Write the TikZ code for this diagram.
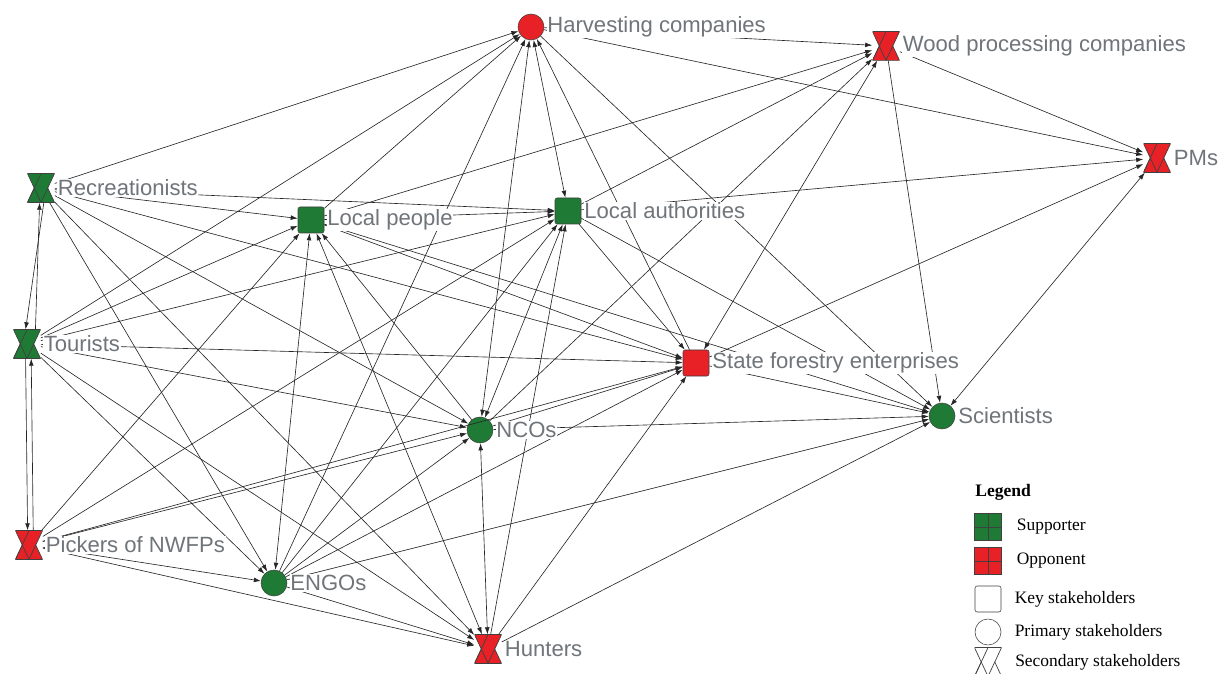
\documentclass[tikz,border=0pt]{standalone}
\usepackage{fontspec}
\setmainfont{Liberation Serif}
\setsansfont{Liberation Sans}
\usetikzlibrary{arrows.meta,positioning}

\definecolor{oppred}{RGB}{232,33,39}
\definecolor{supgreen}{RGB}{31,122,53}
\definecolor{labgray}{RGB}{112,117,122}

\tikzset{
  key/.style={rectangle, rounded corners=1.5pt, draw=black!75, fill=#1, minimum size=0.65cm, inner sep=0pt},
  prim/.style={circle, draw=black!75, fill=#1, minimum size=0.65cm, inner sep=0pt},
  second/.style={rectangle, minimum width=0.675cm, minimum height=0.72cm, inner sep=0pt,
    path picture={
      \filldraw[fill=#1, draw=black!75, line width=0.5pt]
        (path picture bounding box.south west) -- (path picture bounding box.south east)
        -- (path picture bounding box.north) -- cycle;
      \filldraw[fill=#1, draw=black!75, line width=0.5pt]
        (path picture bounding box.north west) -- (path picture bounding box.north east)
        -- (path picture bounding box.south) -- cycle;
      \draw[black!75, line width=0.5pt]
        (path picture bounding box.south west) -- (path picture bounding box.north);}},
  grid/.style={rectangle, draw=black!75, fill=#1, minimum size=0.675cm, inner sep=0pt,
    path picture={\draw[black!75]
      (path picture bounding box.north) -- (path picture bounding box.south)
      (path picture bounding box.west) -- (path picture bounding box.east);}},
  lab/.style={fill=white, text=labgray, inner sep=0.5pt, font=\sffamily\fontsize{15.7}{17}\selectfont},
  leg/.style={inner sep=0pt, font=\fontsize{12.4}{14}\selectfont},
  rel/.style={-{Latex[length=5pt,width=3.4pt]}, black!85, line width=0.45pt},
  both/.style={{Latex[length=5pt,width=3.4pt]}-{Latex[length=5pt,width=3.4pt]}, black!85, line width=0.45pt}
}

\begin{document}
\begin{tikzpicture}[x=0.025cm, y=-0.025cm]
    \useasboundingbox (0,0) rectangle (1222,674);

    % stakeholders
    \node[prim=oppred] (harv) at (531,27) {};
    \node[second=oppred] (wood) at (886,46) {};
    \node[second=oppred] (pms) at (1157,158) {};
    \node[second=supgreen] (recr) at (41,188) {};
    \node[key=supgreen] (locp) at (311,220) {};
    \node[key=supgreen] (loca) at (568,211) {};
    \node[second=supgreen] (tour) at (27,344) {};
    \node[key=oppred] (sfe) at (696,363) {};
    \node[prim=supgreen] (nco) at (480,430) {};
    \node[prim=supgreen] (sci) at (942,416) {};
    \node[second=oppred] (pick) at (29,545) {};
    \node[prim=supgreen] (engo) at (274,583) {};
    \node[second=oppred] (hunt) at (488,649) {};

    % relations
    \draw[rel] (recr) edge (harv) edge (locp) edge (loca) edge (sfe) edge (nco) edge (engo) edge (hunt);
    \draw[rel] (tour) edge (harv) edge (locp) edge (loca) edge (sfe) edge (nco) edge (engo) edge (hunt);
    \draw[rel] (pick) edge (locp) edge (loca) edge (nco) edge (sfe) edge (engo) edge (hunt);
    \draw[rel] (locp) edge (harv) edge (wood) edge (loca) edge (sfe) edge (sci);
    \draw[rel] (loca) edge (wood) edge (pms) edge (sfe) edge (sci);
    \draw[rel] (sfe) edge (harv) edge (pms) edge (sci);
    \draw[rel] (nco) edge (locp) edge (sfe) edge (sci) edge (wood);
    \draw[rel] (engo) edge (harv) edge (loca) edge (sfe) edge (nco) edge (sci) edge (hunt);
    \draw[rel] (hunt) edge (loca) edge (sfe) edge (sci);
    \draw[rel] (harv) edge (wood) edge (pms) edge (sci);
    \draw[rel] (wood) edge (pms) edge (sci);
    \draw[both] (harv) edge (loca) edge (nco);
    \draw[both] (locp) edge (engo) edge (hunt);
    \draw[both] (loca) edge (nco);
    \draw[both] (nco) edge (hunt);
    \draw[both] (wood) edge (sfe);
    \draw[both] (sci) edge (pms);
    \draw[rel] ([xshift=2pt]recr.south) -- ([xshift=-1pt]tour.north);
    \draw[rel] ([xshift=6pt]tour.north) -- ([xshift=-1pt]recr.south);
    \draw[rel] ([xshift=-1pt]tour.south) -- ([xshift=-1pt]pick.north);
    \draw[rel] ([xshift=3pt]pick.north) -- ([xshift=3pt]tour.south);

    % names
    \node[lab, right=1.5pt of harv] (harvl) {Harvesting companies};
    \node[lab, right=1.5pt of wood] (woodl) {Wood processing companies};
    \node[lab, right=1.5pt of pms] (pmsl) {PMs};
    \node[lab, right=1.5pt of recr] (recrl) {Recreationists};
    \node[lab, right=1.5pt of locp] (locpl) {Local people};
    \node[lab, right=1.5pt of loca] (local) {Local authorities};
    \node[lab, right=1.5pt of tour] (tourl) {Tourists};
    \node[lab, right=1.5pt of sfe] (sfel) {State forestry enterprises};
    \node[lab, right=1.5pt of nco] (ncol) {NCOs};
    \node[lab, right=1.5pt of sci] (scil) {Scientists};
    \node[lab, right=1.5pt of pick] (pickl) {Pickers of NWFPs};
    \node[lab, right=1.5pt of engo] (engol) {ENGOs};
    \node[lab, right=1.5pt of hunt] (huntl) {Hunters};

    % legend
    \node[leg, anchor=west, font=\bfseries\fontsize{12.5}{14}\selectfont] (legt) at (975,492) {Legend};
    \node[grid=supgreen] (lsup) at (988,527) {};
    \node[leg, right=0.37cm of lsup] {Supporter};
    \node[grid=oppred] (lopp) at (988,561) {};
    \node[leg, right=0.37cm of lopp] {Opponent};
    \node[key=white] (lkey) at (988,599) {};
    \node[leg, right=0.33cm of lkey] {Key stakeholders};
    \node[prim=white] (lprim) at (988,632) {};
    \node[leg, right=0.33cm of lprim] {Primary stakeholders};
    \node[second=white] (lsec) at (988,662) {};
    \node[leg, right=0.33cm of lsec] {Secondary stakeholders};
\end{tikzpicture}
\end{document}
